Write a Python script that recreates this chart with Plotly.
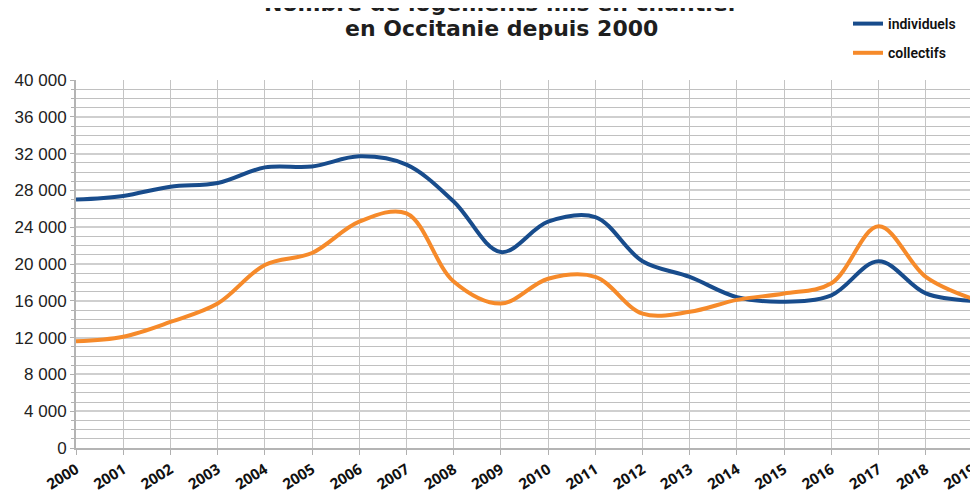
import plotly.graph_objects as go

years = list(range(2000, 2020))
year_labels = [str(y) for y in years]
individuels = [27000, 27400, 28400, 28800, 30500, 30600, 31700, 30800, 26800, 21300,
               24600, 25100, 20300, 18600, 16400, 15900, 16600, 20300, 16800, 16000]
collectifs = [11600, 12100, 13700, 15700, 19900, 21200, 24600, 25500, 18100, 15700,
              18400, 18600, 14600, 14800, 16100, 16800, 17900, 24100, 18600, 16200]
y_ticks = list(range(0, 40001, 4000))
title_lines = ["Nombre de logements mis en chantier", "en Occitanie depuis 2000"]

fig = go.Figure()
fig.add_trace(go.Scatter(x=years, y=individuels, name="individuels", mode="lines",
                         line=dict(color="#184c8c", width=4, shape="spline", smoothing=1),
                         legendgroup="a"))
fig.add_trace(go.Scatter(x=years, y=collectifs, name="collectifs", mode="lines",
                         line=dict(color="#f68a2a", width=4, shape="spline", smoothing=1),
                         legendgroup="b"))

H = 484
T = 72
PH = 368
title_font = dict(family="DejaVu Sans, sans-serif", size=22, color="#1e1e1e")
annotations = []
for txt, yc in zip(title_lines, [-4, 21]):
    annotations.append(dict(text="<b>%s</b>" % txt, x=0.474, y=1 + (T - yc) / PH,
                            xref="paper", yref="paper", xanchor="center", yanchor="middle",
                            showarrow=False, font=title_font))

fig.update_layout(
    width=970, height=H,
    margin=dict(l=68, r=5, t=T, b=44, autoexpand=False),
    paper_bgcolor="white", plot_bgcolor="white",
    separators=", ",
    font=dict(family="Liberation Sans, Arial, sans-serif", color="#222"),
    showlegend=True,
    legend=dict(x=840 / 970, y=1.0 + 2 / H, xref="container", yref="container",
                xanchor="left", yanchor="top",
                font=dict(family="Liberation Sans Narrow, Roboto, sans-serif", size=14,
                          color="#111", weight=600),
                tracegroupgap=8, itemwidth=30, bgcolor="rgba(0,0,0,0)"),
    annotations=annotations,
)

fig.update_xaxes(
    range=[2000, 2019], tickmode="array", tickvals=years, ticktext=year_labels,
    tickangle=-32, tickfont=dict(family="Open Sans, sans-serif", size=15, color="#111", weight="bold"),
    ticklabeloverflow="allow",
    showgrid=True, gridcolor="#c4c4c4", gridwidth=1,
    ticks="outside", ticklen=5, tickcolor="#b0b0b0",
    showline=True, linecolor="#b4b4b4", linewidth=2, zeroline=False,
    automargin=False,
)
fig.update_yaxes(
    range=[0, 40000], tickmode="array", tickvals=y_ticks, tickformat=",d",
    tickfont=dict(family="Liberation Sans, sans-serif", size=17, color="#222"),
    showgrid=True, gridcolor="#cfcfcf", gridwidth=2,
    minor=dict(dtick=1000, showgrid=True, gridcolor="#c0c0c0", gridwidth=1,
               ticks="outside", ticklen=3, tickcolor="#b0b0b0"),
    ticks="outside", ticklen=4, tickcolor="#b0b0b0",
    showline=True, linecolor="#b4b4b4", linewidth=2, zeroline=False, mirror=True,
    ticksuffix="  ", automargin=False,
)

fig.write_html("out.html")
